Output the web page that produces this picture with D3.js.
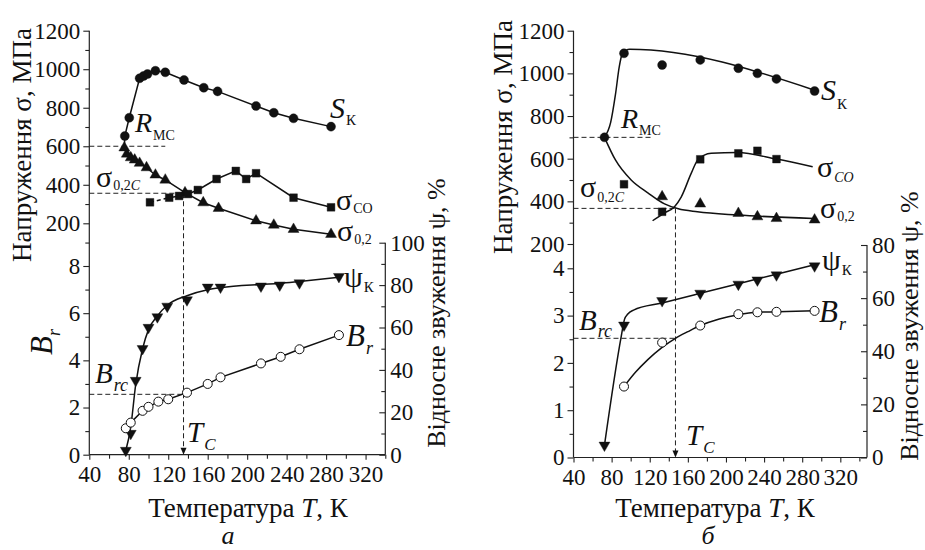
<!DOCTYPE html>
<html>
<head>
<meta charset="utf-8">
<title>Температурні залежності</title>
<script src="https://d3js.org/d3.v7.min.js"></script>
<style>
  body { margin: 0; background: #fff; }
  svg { font-family: "Liberation Serif", serif; }
</style>
</head>
<body>
<script>
var w = 925, h = 550;
var serifFont = "Liberation Serif";

// tick labels
var xTicks = [40, 80, 120, 160, 200, 240, 280, 320];
var xMinor = [60, 100, 140, 180, 220, 260, 300, 340];
var sigmaTicks = [200, 400, 600, 800, 1000, 1200];
var sigmaMinorA = [100, 300, 500, 700, 900, 1100];
var sigmaMinorB = [300, 500, 700, 900, 1100];
var brTicksA = [0, 2, 4, 6, 8];
var brMinorA = [1, 3, 5, 7];
var brTicksB = [0, 1, 2, 3, 4];
var brMinorB = [0.5, 1.5, 2.5, 3.5];
var psiTicksA = [0, 20, 40, 60, 80, 100];
var psiMinorA = [10, 30, 50, 70, 90];
var psiTicksB = [0, 20, 40, 60, 80];
var psiMinorB = [10, 30, 50, 70];

// panel a: [T, value]
var rmcA = [75.5, 592];
var skA = [[76, 653], [80.5, 748], [91, 953], [95, 965], [99, 975], [107, 992], [117, 984],
           [136, 944], [156, 904], [170, 885], [209, 809], [227, 774], [247, 745], [285, 702]];
var s02A = [[75.5, 592], [78, 560], [82, 541], [86, 529], [91, 512], [98, 489], [107, 451],
            [117, 425], [137, 359], [155.5, 307], [171, 278], [209, 213], [227, 191], [247, 169], [285, 143]];
var scoA = [[101.5, 309], [121, 333], [131, 342], [140, 352], [150, 373], [169, 430],
            [188.5, 472], [199, 430], [209, 460], [247, 333], [285, 283]];
var psiA = [[77, 2], [82, 10], [87, 35], [94, 50], [100, 60], [109, 65], [119, 70], [139, 73],
            [160, 79], [173, 79], [214, 79.5], [233, 80], [253, 81], [293, 84]];
var psiFitA = [[77, 2], [82, 13], [87, 33], [94, 50], [100, 59], [109, 65.5], [119, 70.5], [139, 75],
               [160, 77.8], [173, 78.8], [214, 80.3], [233, 80.8], [253, 81.7], [293, 83.7]];
var brA = [[77, 1.12], [82, 1.36], [94, 1.86], [100, 2.03], [110, 2.25], [120, 2.35], [139, 2.63],
           [160, 3.0], [173, 3.28], [214, 3.87], [234, 4.15], [253, 4.47], [293, 5.07]];
var critA = {rmc: 600, rmcEnd: 117, s02c: 356, brc: 2.56, tc: 135.5};

// panel б
var rmcB = [72.5, 700];
var skB = [[93, 1094], [133, 1039], [173, 1063], [213, 1024], [233, 1000], [253, 974], [293, 917]];
var skFitB = [[72.5, 700], [79, 770], [84, 900], [88, 1030], [91, 1090], [95, 1108], [99, 1113], [293, 921]];
var s02B = [[133, 422], [173, 388], [213, 344], [233, 328], [253, 320], [293, 313]];
var s02FitB = [[72.5, 700], [84, 594], [100.5, 500], [118, 440], [135.5, 388], [150, 365],
               [170, 351], [212, 336], [292, 320]];
var scoB = [[93, 480], [133, 351], [173, 597], [213, 625], [233, 637], [253, 598]];
var scoFitB = [[123, 309], [135, 345], [146, 375], [153, 420], [163.5, 531], [170.4, 594],
               [184.5, 625], [212, 629], [253, 598], [291, 562]];
var psiB = [[72.5, 4.6], [93, 49.8], [133, 59], [173, 61.8], [213, 65.2], [233, 66.8], [253, 68.7], [293, 72.1]];
var psiFitB = [[72.5, 4.6], [90, 45.4], [93.5, 52], [97, 54], [103, 55.5], [133, 58.2],
               [173, 61.8], [213, 65.4], [253, 69], [292, 72.5]];
var brB = [[93, 1.5], [133, 2.43], [173, 2.79], [213, 3.03], [233, 3.07], [253, 3.08], [293, 3.1]];
var brFitB = [[93, 1.5], [105, 1.8], [118, 2.07], [133, 2.33], [147, 2.52], [160, 2.66], [173, 2.79],
              [193, 2.93], [213, 3.02], [233, 3.07], [253, 3.08], [293, 3.1]];
var critB = {rmc: 700, rmcEnd: 121.5, s02c: 367, brc: 2.52, tc: 147};

var svg = d3.select("body").append("svg")
    .attr("width", w)
    .attr("height", h)
    .attr("font-family", serifFont);

var panelA = {
  x: d3.scaleLinear().domain([40, 340]).range([89.3, 385.3]),
  sigma: d3.scaleLinear().domain([200, 1200]).range([223.3, 30.7]),
  br: d3.scaleLinear().domain([0, 8]).range([454.7, 266]),
  psi: d3.scaleLinear().domain([0, 100]).range([454.7, 242.7]),
  sigmaMinor: sigmaMinorA, brTicks: brTicksA, brMinor: brMinorA,
  psiTicks: psiTicksA, psiMinor: psiMinorA, crit: critA
};
var panelB = {
  x: d3.scaleLinear().domain([40, 348]).range([573.5, 867]),
  sigma: d3.scaleLinear().domain([200, 1200]).range([244, 30.7]),
  br: d3.scaleLinear().domain([0, 4]).range([457.5, 268.3]),
  psi: d3.scaleLinear().domain([0, 80]).range([457.5, 245]),
  sigmaMinor: sigmaMinorB, brTicks: brTicksB, brMinor: brMinorB,
  psiTicks: psiTicksB, psiMinor: psiMinorB, crit: critB
};

function styleAxis(sel) {
  sel.attr("font-size", 23).attr("font-family", serifFont);
  sel.select(".domain").remove();
  sel.selectAll("line").attr("stroke", "#222").attr("stroke-width", 1.1);
  sel.selectAll("text").attr("fill", "#111");
}

function drawAxes(p) {
  var g = svg.append("g");
  var left = p.x.range()[0], right = p.x.range()[1], bottom = p.br(0);
  g.append("g").attr("transform", "translate(" + left + ",0)")
    .call(d3.axisLeft(p.sigma).tickValues(sigmaTicks).tickSize(6).tickPadding(3).tickFormat(d3.format("d")))
    .call(styleAxis);
  g.append("g").attr("transform", "translate(" + left + ",0)")
    .call(d3.axisLeft(p.sigma).tickValues(p.sigmaMinor).tickSize(4).tickFormat(""))
    .call(styleAxis);
  g.append("g").attr("transform", "translate(" + left + ",0)")
    .call(d3.axisLeft(p.br).tickValues(p.brTicks).tickSize(6).tickPadding(3).tickFormat(d3.format("d")))
    .call(styleAxis);
  g.append("g").attr("transform", "translate(" + left + ",0)")
    .call(d3.axisLeft(p.br).tickValues(p.brMinor).tickSize(4).tickFormat(""))
    .call(styleAxis);
  g.append("g").attr("transform", "translate(" + right + ",0)")
    .call(d3.axisRight(p.psi).tickValues(p.psiTicks).tickSize(-6).tickPadding(5).tickFormat(d3.format("d")))
    .call(styleAxis);
  g.append("g").attr("transform", "translate(" + right + ",0)")
    .call(d3.axisRight(p.psi).tickValues(p.psiMinor).tickSize(-4).tickFormat(""))
    .call(styleAxis);
  g.append("g").attr("transform", "translate(0," + bottom + ")")
    .call(d3.axisBottom(p.x).tickValues(xTicks).tickSize(5).tickPadding(6).tickFormat(d3.format("d")))
    .call(styleAxis);
  g.append("g").attr("transform", "translate(0," + bottom + ")")
    .call(d3.axisBottom(p.x).tickValues(xMinor).tickSize(4).tickFormat(""))
    .call(styleAxis);
  // axis lines
  g.append("line").attr("x1", left).attr("x2", left).attr("y1", p.sigma(1200)).attr("y2", bottom)
    .attr("stroke", "#222").attr("stroke-width", 1.2);
  g.append("line").attr("x1", left).attr("x2", right).attr("y1", bottom).attr("y2", bottom)
    .attr("stroke", "#222").attr("stroke-width", 1.2);
  g.append("line").attr("x1", right).attr("x2", right).attr("y1", p.psi.range()[1]).attr("y2", bottom)
    .attr("stroke", "#222").attr("stroke-width", 1.2);
}

function drawDashes(p) {
  var c = p.crit, g = svg.append("g").attr("stroke", "#222").attr("stroke-width", 1)
      .attr("stroke-dasharray", "5,3").attr("fill", "none");
  var x0 = p.x(40), xt = p.x(c.tc), bottom = p.br(0);
  g.append("line").attr("x1", x0).attr("x2", p.x(c.rmcEnd)).attr("y1", p.sigma(c.rmc)).attr("y2", p.sigma(c.rmc));
  g.append("line").attr("x1", x0).attr("x2", xt).attr("y1", p.sigma(c.s02c)).attr("y2", p.sigma(c.s02c));
  g.append("line").attr("x1", x0).attr("x2", xt).attr("y1", p.br(c.brc)).attr("y2", p.br(c.brc));
  g.append("line").attr("x1", xt).attr("x2", xt).attr("y1", p.sigma(c.s02c)).attr("y2", bottom - 3);
  svg.append("path").attr("d", "M" + (xt - 3) + "," + (bottom - 7) + "L" + (xt + 3) + "," + (bottom - 7) + "L" + xt + "," + bottom + "Z")
    .attr("fill", "#111");
}

function drawLine(data, xs, ys, curve, dash) {
  svg.append("path").datum(data)
    .attr("d", d3.line().x(function(d) { return xs(d[0]); }).y(function(d) { return ys(d[1]); }).curve(curve || d3.curveLinear))
    .attr("fill", "none").attr("stroke", "#111").attr("stroke-width", 1.5)
    .attr("stroke-dasharray", dash || null);
}

var markKinds = {
  circle: {type: d3.symbolCircle, size: 64, rot: 0, fill: "#111"},
  open: {type: d3.symbolCircle, size: 64, rot: 0, fill: "#fff"},
  tri: {type: d3.symbolTriangle, size: 52, rot: 0, fill: "#111"},
  tridown: {type: d3.symbolTriangle, size: 52, rot: 180, fill: "#111"},
  square: {type: d3.symbolSquare, size: 60, rot: 0, fill: "#111"}
};

function drawMarks(data, xs, ys, kind) {
  var s = markKinds[kind];
  svg.append("g").selectAll("path").data(data).enter().append("path")
    .attr("d", d3.symbol().type(s.type).size(s.size))
    .attr("transform", function(d) { return "translate(" + xs(d[0]) + "," + ys(d[1]) + ") rotate(" + s.rot + ")"; })
    .attr("fill", s.fill).attr("stroke", "#111").attr("stroke-width", kind === "open" ? 1 : 0.4);
}

function seriesLabel(x, y, main, sub, o) {
  o = o || {};
  var t = svg.append("text").attr("x", x).attr("y", y)
    .attr("font-family", serifFont).attr("fill", "#111");
  t.append("tspan").text(main).attr("font-size", o.size || 28)
    .attr("font-style", o.italic === false ? null : "italic");
  t.append("tspan").text(sub).attr("font-size", o.subSize || 15)
    .attr("dx", o.dx || 1).attr("dy", o.dy || 7)
    .attr("font-style", o.subItalic ? "italic" : null);
  return t;
}

function axisTitle(x, y, rot, parts, size) {
  var t = svg.append("text").attr("transform", "translate(" + x + "," + y + ") rotate(" + rot + ")")
    .attr("text-anchor", "middle").attr("font-family", serifFont).attr("font-size", size || 26).attr("fill", "#111");
  parts.forEach(function(pt) {
    t.append("tspan").text(pt[0]).attr("font-style", pt[1] ? "italic" : null);
  });
  return t;
}

[panelA, panelB].forEach(function(p) { drawAxes(p); drawDashes(p); });

// panel a curves
var pa = panelA;
drawLine([rmcA].concat(skA), pa.x, pa.sigma);
drawLine(s02A, pa.x, pa.sigma);
drawLine(scoA.slice(0, 2), pa.x, pa.sigma, null, "4,3");
drawLine(scoA.slice(1), pa.x, pa.sigma);
drawLine(psiFitA, pa.x, pa.psi, d3.curveMonotoneX);
drawLine(brA, pa.x, pa.br);
drawMarks(skA, pa.x, pa.sigma, "circle");
drawMarks(s02A, pa.x, pa.sigma, "tri");
drawMarks(scoA, pa.x, pa.sigma, "square");
drawMarks(psiA, pa.x, pa.psi, "tridown");
drawMarks(brA, pa.x, pa.br, "open");

// panel б curves
var pb = panelB;
drawLine(skFitB, pb.x, pb.sigma, d3.curveMonotoneX);
drawLine(s02FitB, pb.x, pb.sigma, d3.curveMonotoneX);
drawLine(scoFitB, pb.x, pb.sigma, d3.curveMonotoneX);
drawLine(psiFitB, pb.x, pb.psi, d3.curveMonotoneX);
drawLine(brFitB, pb.x, pb.br, d3.curveMonotoneX);
drawMarks([rmcB].concat(skB), pb.x, pb.sigma, "circle");
drawMarks(s02B, pb.x, pb.sigma, "tri");
drawMarks(scoB, pb.x, pb.sigma, "square");
drawMarks(psiB, pb.x, pb.psi, "tridown");
drawMarks(brB, pb.x, pb.br, "open");

// series labels, panel a
seriesLabel(330, 118, "S", "К", {size: 30, dy: 7});
seriesLabel(135, 132, "R", "МС", {size: 28, subSize: 14, dy: 8});
seriesLabel(336, 210, "σ", "СО", {size: 30, italic: false, subSize: 14, dy: 3});
seriesLabel(337, 241, "σ", "0,2", {size: 30, italic: false, subSize: 14, dy: 3});
seriesLabel(96, 187, "σ", "0,2", {size: 30, italic: false, subSize: 14, dy: 3})
  .append("tspan").text("C").attr("font-size", 14).attr("font-style", "italic");
seriesLabel(344, 287, "ψ", "К", {size: 30, italic: false, subSize: 15, dy: 5});
seriesLabel(346, 346, "B", "r", {size: 31, subSize: 18, subItalic: true, dy: 8});
seriesLabel(95, 383, "B", "rc", {size: 29, subSize: 18, subItalic: true, dy: 8});
seriesLabel(187, 442, "T", "C", {size: 29, subSize: 17, subItalic: true, dy: 8});

// series labels, panel б
seriesLabel(821, 100, "S", "К", {size: 30, dy: 9});
seriesLabel(621, 128, "R", "МС", {size: 28, subSize: 14, dy: 7});
seriesLabel(817, 177, "σ", "CO", {size: 30, italic: false, subSize: 14, subItalic: true, dy: 5});
seriesLabel(820, 218, "σ", "0,2", {size: 30, italic: false, subSize: 14, dy: 3});
seriesLabel(580, 197, "σ", "0,2", {size: 30, italic: false, subSize: 14, dy: 5})
  .append("tspan").text("C").attr("font-size", 14).attr("font-style", "italic");
seriesLabel(822, 270, "ψ", "К", {size: 30, italic: false, subSize: 15, dy: 5});
seriesLabel(819, 322, "B", "r", {size: 31, subSize: 18, subItalic: true, dy: 8});
seriesLabel(579, 330, "B", "rc", {size: 29, subSize: 18, subItalic: true, dy: 7});
seriesLabel(686, 445, "T", "C", {size: 29, subSize: 17, subItalic: true, dy: 8});

// axis titles
axisTitle(30.5, 145, -90, [["Напруження σ, МПа", false]], 27);
axisTitle(512, 137, -90, [["Напруження σ, МПа", false]], 27);
axisTitle(445, 313, -90, [["Відносне звуження ψ, %", false]], 26);
axisTitle(918, 326, -90, [["Відносне звуження ψ, %", false]], 26);
var brTitle = axisTitle(52, 342, -90, [["B", true]], 31);
brTitle.append("tspan").text("r").attr("font-style", "italic").attr("font-size", 18).attr("dy", 8);
axisTitle(248, 517, 0, [["Температура ", false], ["T", true], [", К", false]], 27);
axisTitle(715, 517, 0, [["Температура ", false], ["T", true], [", К", false]], 27);
axisTitle(228, 544, 0, [["а", true]], 26);
axisTitle(708, 544, 0, [["б", true]], 26);
</script>
</body>
</html>
